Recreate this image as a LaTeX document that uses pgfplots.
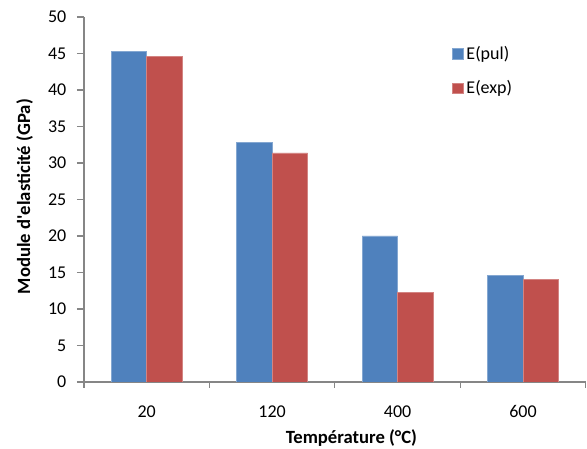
\documentclass[border=0pt]{standalone}
\usepackage{pgfplots}
\pgfplotsset{compat=1.18}
\usepackage{fontspec}
\setmainfont{Carlito}
\definecolor{exblue}{HTML}{4F81BD}
\definecolor{exred}{HTML}{C0504D}
\definecolor{axgray}{HTML}{868686}
\begin{document}
\begin{tikzpicture}
\useasboundingbox (0,0) rectangle (440.25pt,336.75pt);
\begin{axis}[
  at={(63pt,50.25pt)}, anchor=south west,
  scale only axis, width=376.3pt, height=273.75pt,
  font=\fontsize{13.5}{16}\selectfont,
  /pgf/number format/assume math mode=true,
  ybar=0pt, bar width=26.6pt,
  xmin=-0.5, xmax=3.5, ymin=0, ymax=50,
  axis lines*=left,
  axis line style={axgray, line width=0.9pt},
  xtick={0,1,2,3}, xticklabels={20,120,400,600},
  major x tick style={draw=none},
  minor xtick={-0.5,0.5,1.5,2.5,3.5},
  minor x tick style={axgray, line width=0.9pt},
  minor tick length=4.5pt,
  ytick={0,5,...,50},
  major y tick style={axgray, line width=0.9pt},
  major tick length=5.25pt,
  tick align=outside,
  xticklabel style={yshift=-9pt},
  yticklabel style={xshift=-4.5pt},
  xlabel={\textbf{Température (°C)}},
  xlabel style={at={(axis description cs:0.533,0)}, anchor=center, yshift=-42pt, font=\fontsize{14}{16}\selectfont},
  ylabel={\textbf{Module d\textquotesingle elasticité (GPa)}},
  ylabel style={at={(axis description cs:0,0.508)}, anchor=center, yshift=44.6pt, font=\fontsize{14}{16}\selectfont},
  legend style={draw=none, fill=none, at={(axis description cs:0.7335,0.928)}, anchor=north west,
    inner sep=0pt, row sep=10.5pt, font=\fontsize{13.5}{16}\selectfont},
  legend cell align=left,
  legend image code/.code={\fill[#1] (0pt,-4.1pt) rectangle (8.25pt,4.1pt);},
]
\addplot[fill=exblue, draw=exblue!70!white, line width=0.4pt] coordinates {(0,45.3) (1,32.8) (2,20.0) (3,14.6)};
\addplot[fill=exred, draw=exred!70!white, line width=0.4pt] coordinates {(0,44.6) (1,31.4) (2,12.3) (3,14.1)};
\legend{E(pul),E(exp)}
\end{axis}
\end{tikzpicture}
\end{document}
